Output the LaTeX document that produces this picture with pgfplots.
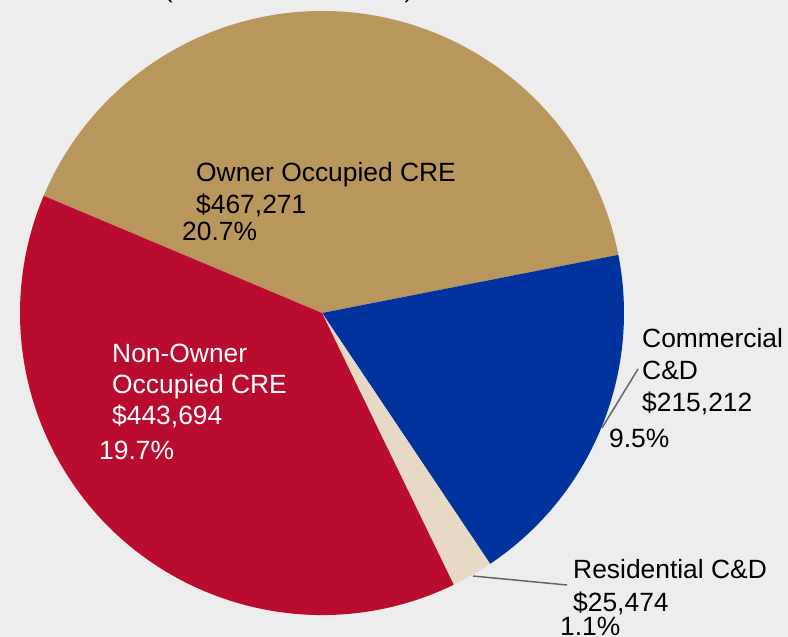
\documentclass[border=0pt]{standalone}
\usepackage{pgfplots}
\usepackage{pgfplotstable}
\pgfplotsset{compat=1.18}
\usepackage{fontspec}
\setmainfont{Liberation Sans}
\definecolor{bg}{HTML}{EDEDED}
\definecolor{tanc}{HTML}{B9965B}
\definecolor{redc}{HTML}{BA0C2F}
\definecolor{bluec}{HTML}{00339E}
\definecolor{beigec}{HTML}{E8D9C4}
\definecolor{leader}{HTML}{666666}
\tikzset{lbl/.style={inner sep=0pt, anchor=base west, font=\fontsize{26.4bp}{31bp}\selectfont}}
\pgfplotstableread{
label value
owner 467271
comm 215212
res 25474
nonowner 443694
}\piedata
\pgfplotstablegetelem{0}{value}\of\piedata \edef\vA{\pgfplotsretval}%
\pgfplotstablegetelem{1}{value}\of\piedata \edef\vB{\pgfplotsretval}%
\pgfplotstablegetelem{2}{value}\of\piedata \edef\vC{\pgfplotsretval}%
\pgfplotstablegetelem{3}{value}\of\piedata \edef\vD{\pgfplotsretval}%
\edef\tot{\fpeval{\vA+\vB+\vC+\vD}}%
\def\st{11.1}%
\edef\eA{\fpeval{\st+360*\vA/\tot}}%
\edef\eB{\fpeval{\st-360*\vB/\tot}}%
\edef\eC{\fpeval{\eB-360*\vC/\tot}}%
\edef\eD{\fpeval{\eC-360*\vD/\tot}}%
\begin{document}%
\begin{tikzpicture}
\fill[bg] (0,0) rectangle (788bp,637bp);
\begin{pgfinterruptboundingbox}
\clip (0,0) rectangle (788bp,637bp);
\begin{axis}[at={(0,0)}, anchor=origin, x=1bp, y=1bp,
  xmin=0, xmax=788, ymin=0, ymax=637, hide axis, clip=false]
\fill[tanc] (axis cs:322,324) -- ++(\st:302bp) arc[start angle=\st, end angle=\eA, radius=302bp] -- cycle;
\fill[bluec] (axis cs:322,324) -- ++(\st:302bp) arc[start angle=\st, end angle=\eB, radius=302bp] -- cycle;
\fill[beigec] (axis cs:322,324) -- ++(\eB:302bp) arc[start angle=\eB, end angle=\eC, radius=302bp] -- cycle;
\fill[redc] (axis cs:322,324) -- ++(\eC:302bp) arc[start angle=\eC, end angle=\eD, radius=302bp] -- cycle;
% title (cut off at top)
\node[lbl, font=\fontsize{25.6bp}{30bp}\selectfont] at (axis cs:164,639.5) {(Dollars in thousands)};
% owner occupied
\node[lbl] at (axis cs:196,455) {Owner Occupied CRE};
\node[lbl] at (axis cs:196,423) {\$467,271};
\node[lbl] at (axis cs:182,396) {20.7\%};
% non-owner
\node[lbl, text=white] at (axis cs:112,275) {Non-Owner};
\node[lbl, text=white] at (axis cs:112,244) {Occupied CRE};
\node[lbl, text=white] at (axis cs:112,213) {\$443,694};
\node[lbl, text=white] at (axis cs:99,178) {19.7\%};
% commercial
\draw[leader, line width=1.5bp] (axis cs:602,209) -- (axis cs:638,268);
\node[lbl] at (axis cs:642,290) {Commercial};
\node[lbl] at (axis cs:642,258) {C\&D};
\node[lbl] at (axis cs:642,226) {\$215,212};
\node[lbl] at (axis cs:609,190) {9.5\%};
% residential
\draw[leader, line width=1.5bp] (axis cs:473,61) -- (axis cs:567,52);
\node[lbl] at (axis cs:573,59) {Residential C\&D};
\node[lbl] at (axis cs:573,26) {\$25,474};
\node[lbl] at (axis cs:560,2) {1.1\%};
\end{axis}
\end{pgfinterruptboundingbox}
\end{tikzpicture}%
\end{document}
